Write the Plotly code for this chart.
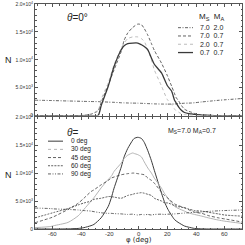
import plotly.graph_objects as go

# ---------------- data ----------------
# top panel: theta = 0 deg, different (Ms, Ma)
phi_a = [-72, -61, -49, -38, -33, -28, -26, -21, -17, -12, -10, -7.5, -4, -0.5, 2, 4, 6.5, 9, 11, 16, 20, 23, 25, 26, 28, 30, 32, 35, 37, 39, 44, 50, 56, 61, 72]
ms70_ma20 = [2760, 2700, 2620, 2550, 2520, 2500, 2480, 2420, 2380, 2300, 2280, 2260, 2240, 2230, 2200, 2180, 2150, 2120, 2100, 2070, 2060, 2060, 2080, 2100, 2120, 2180, 2220, 2240, 2260, 2300, 2450, 2600, 2750, 2850, 3060]
ms70_ma07 = [0, 0, 0, 50, 250, 900, 2350, 5500, 8200, 11500, 13500, 14800, 15800, 16400, 16300, 15600, 14400, 12900, 11700, 9400, 7200, 5300, 4000, 3300, 2600, 1760, 1150, 750, 600, 380, 100, 30, 0, 0, 0]
ms20_ma07 = [0, 0, 0, 50, 300, 1000, 2900, 5900, 9100, 12100, 13000, 13800, 14100, 14100, 13800, 13300, 11800, 10000, 8200, 5300, 2900, 2000, 1200, 900, 600, 300, 150, 80, 40, 20, 0, 0, 0, 0, 0]
ms07_ma07 = [0, 0, 0, 0, 0, 60, 1760, 5300, 8800, 11800, 12500, 12900, 13000, 13000, 12700, 12400, 11800, 10300, 9200, 7650, 5400, 4400, 2800, 2350, 1500, 900, 550, 350, 300, 200, 100, 30, 0, 0, 0]

# bottom panel: Ms = 7.0, Ma = 0.7, different theta
phi_b = [-72, -61, -59, -49, -42, -38, -33, -31, -26, -21, -19, -17, -12, -10, -7.5, -4, -3, -0.5, 2, 4, 6.5, 9, 11, 16, 18, 20.5, 25, 27.5, 32, 34.5, 39, 44, 48.5, 55.5, 60, 72]
theta0 = [0, 0, 0, 20, 100, 240, 600, 820, 2000, 4060, 5500, 7300, 11100, 12900, 14400, 15900, 16200, 16400, 16200, 15500, 14000, 12200, 10500, 6400, 4900, 3500, 1700, 1200, 530, 350, 100, 30, 0, 0, 0, 0]
theta30 = [240, 450, 590, 1180, 2350, 3500, 5000, 5600, 7350, 8900, 9400, 10300, 11800, 12600, 13200, 13600, 13500, 13300, 12900, 12000, 10900, 10000, 9100, 7300, 6400, 5500, 4060, 3700, 3200, 2900, 2600, 2300, 2000, 1600, 1400, 1000]
theta45 = [1120, 2000, 2200, 3500, 4600, 5500, 6700, 7000, 7900, 8700, 9100, 9300, 9700, 9800, 9900, 10000, 10000, 9900, 9800, 9700, 9100, 8700, 8200, 6600, 6000, 5500, 4500, 4200, 3800, 3500, 3000, 2800, 2400, 2000, 1800, 1250]
theta60 = [2000, 2800, 2950, 3650, 4300, 4650, 5000, 5300, 5500, 5800, 5800, 5700, 5500, 5700, 6000, 6200, 6300, 6400, 6500, 6400, 6200, 6000, 5500, 5000, 4700, 4650, 4200, 4000, 3800, 3600, 3300, 3200, 3000, 2700, 2500, 2300]
theta90 = [3750, 3650, 3600, 3500, 3400, 3300, 3200, 3100, 2900, 2800, 2800, 2750, 2700, 2650, 2600, 2650, 2600, 2500, 2600, 2550, 2600, 2500, 2600, 2650, 2600, 2650, 2700, 2750, 2850, 2900, 3000, 3050, 3150, 3250, 3300, 3400]

y_tickvals = [0, 5000, 10000, 15000, 20000]
y_ticktext = ["0", "5.0×10<sup>3</sup>", "1.0×10<sup>4</sup>", "1.5×10<sup>4</sup>", "2.0×10<sup>4</sup>"]
x_tickvals = [-60, -40, -20, 0, 20, 40, 60]
x_ticktext = ["-60", "-40", "-20", "0", "20", "40", "60"]
top_labels = ["7.0  2.0", "7.0  0.7", "2.0  0.7", "0.7  0.7"]
bot_labels = ["0 deg", "30 deg", "45 deg", "60 deg", "90 deg"]

DARK = "#3a3a3a"
LIGHT = "#b4b4b4"
FONT = "Liberation Sans"
DASH = "3px,2px"
DASHDOT = "3px,1.5px,1px,1.5px"
DASH60 = "2px,1.2px"
DASHDOTDOT = "3px,1.5px,1px,1.5px,1px,1.5px"

fig = go.Figure()

def add(x, y, color, dash, width, yaxis):
    fig.add_trace(go.Scatter(x=x, y=y, mode="lines", xaxis="x" if yaxis == "y" else "x2",
                             yaxis=yaxis, line=dict(color=color, dash=dash, width=width, shape="spline", smoothing=0.6),
                             showlegend=False, hoverinfo="skip"))

top_styles = [(DARK, DASHDOT, 0.8), (DARK, DASH, 0.8), (LIGHT, "dot", 0.9), (DARK, "solid", 1.3)]
bot_styles = [(DARK, "solid", 1.0), (LIGHT, "solid", 1.0), (DARK, DASH, 0.8), (DARK, DASH60, 0.8),
              (DARK, DASHDOTDOT, 0.8)]

for yv, (c, d, w) in zip([ms70_ma20, ms70_ma07, ms20_ma07, ms07_ma07], top_styles):
    add(phi_a, yv, c, d, w, "y")
for yv, (c, d, w) in zip([theta0, theta30, theta45, theta60, theta90], bot_styles):
    add(phi_b, yv, c, d, w, "y2")

axcommon = dict(range=[-72, 72], showgrid=False, zeroline=False, mirror="ticks", showline=True,
                linecolor="#555555", linewidth=1, ticks="inside", ticklen=3, tickcolor="#555555",
                tickvals=x_tickvals, showticklabels=False,
                minor=dict(dtick=5, ticks="inside", ticklen=1.5, tickcolor="#555555"))
yaxcommon = dict(range=[0, 20000], showgrid=False, zeroline=False, mirror="ticks", showline=True,
                 linecolor="#555555", linewidth=1, ticks="inside", ticklen=3, tickcolor="#555555",
                 tickvals=y_tickvals, ticktext=y_ticktext, tickfont=dict(size=5, family=FONT, color="#333"),
                 minor=dict(tickvals=list(range(0, 20001, 1000)), ticks="inside", ticklen=1.5, tickcolor="#555555"))

fig.update_layout(
    width=245, height=245,
    margin=dict(l=35, r=3, t=1, b=16),
    plot_bgcolor="white", paper_bgcolor="white",
    xaxis=dict(axcommon, anchor="y"),
    yaxis=dict(yaxcommon, domain=[0.504, 1], anchor="x"),
    xaxis2=dict(axcommon, anchor="y2"),
    yaxis2=dict(yaxcommon, domain=[0, 0.497], anchor="x2"),
    font=dict(family=FONT, color="#333"),
)

# convert pixel to paper: plot area x 35..242, y 1..229
def px(x, y, text, size, anchor="left", family=FONT):
    fig.add_annotation(text=text, x=(x - 35) / 207, y=(229 - y) / 228, xref="paper", yref="paper",
                       showarrow=False, xanchor=anchor, yanchor="middle",
                       font=dict(size=size, family=family, color="#222"))

# x tick labels, positioned by the bottom x axis scale
for v, t in zip(x_tickvals, x_ticktext):
    fig.add_annotation(text=t, x=v, xref="x2", y=(229 - 234) / 228, yref="paper", showarrow=False,
                       xanchor="center", yanchor="middle", font=dict(size=6, family=FONT, color="#333"))

px(8, 58, "N", 9, "center")
px(8, 174, "N", 9, "center")
px(139, 240.5, "φ (deg)", 7, "center", "DejaVu Sans")
px(65, 15, "<i>θ</i>=0°", 10)
px(197, 14, "M<sub>S</sub>  M<sub>A</sub>", 8)
for i, t in enumerate(top_labels):
    px(198, 25 + 8.4 * i, t, 7)
px(65, 131, "<i>θ</i>=", 10)
px(166, 130, "M<sub>S</sub>=7.0 M<sub>A</sub>=0.7", 7, "left")
for i, t in enumerate(bot_labels):
    px(69, 140 + 8.3 * i, t, 6.5)

# legend line samples (drawn as shapes in paper coords)
def sample(x0, x1, y, color, dash, width):
    fig.add_shape(type="line", x0=(x0 - 35) / 207, x1=(x1 - 35) / 207, y0=(229 - y) / 228, y1=(229 - y) / 228,
                  xref="paper", yref="paper", line=dict(color=color, dash=dash, width=width))

for i, (c, d, w) in enumerate(top_styles):
    sample(178, 193, 25 + 8.4 * i, c, d, w)
bot_sample_styles = [bot_styles[0], (LIGHT, "dot", 1.0)] + bot_styles[2:]
for i, (c, d, w) in enumerate(bot_sample_styles):
    sample(48, 63, 140 + 8.3 * i, c, d, w)

fig.write_html("out.html", config={"displayModeBar": False, "staticPlot": True},
               post_script="document.body.style.margin='0';document.body.style.overflow='hidden';")
